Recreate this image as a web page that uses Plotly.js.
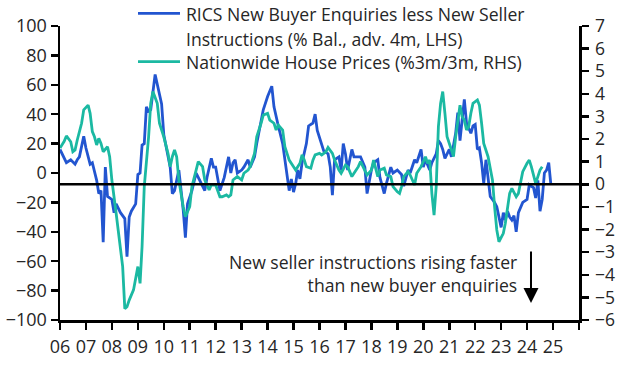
<!DOCTYPE html>
<html><head><meta charset="utf-8">
<script src="https://cdn.plot.ly/plotly-3.0.1.min.js"></script>
<style>html,body{margin:0;padding:0;background:#fff;}#chart{width:618px;height:366px;}</style>
</head><body><div id="chart"></div>
<script>
const ricsDates = ["2006-01","2006-02","2006-04","2006-06","2006-08","2006-09","2006-10","2006-12","2007-01","2007-03","2007-04","2007-06","2007-07","2007-08","2007-09","2007-10","2007-11","2008-01","2008-02","2008-03","2008-05","2008-07","2008-08","2008-09","2008-10","2008-12","2009-01","2009-02","2009-03","2009-04","2009-05","2009-06","2009-07","2009-09","2009-10","2009-12","2010-01","2010-03","2010-04","2010-05","2010-06","2010-08","2010-10","2010-11","2010-12","2011-02","2011-04","2011-05","2011-08","2011-09","2011-11","2011-12","2012-01","2012-03","2012-05","2012-07","2012-08","2012-09","2012-10","2012-11","2013-01","2013-02","2013-04","2013-05","2013-07","2013-08","2013-10","2013-11","2014-01","2014-03","2014-04","2014-05","2014-06","2014-08","2014-09","2014-11","2014-12","2015-01","2015-02","2015-03","2015-04","2015-05","2015-07","2015-08","2015-10","2015-11","2015-12","2016-02","2016-03","2016-05","2016-06","2016-07","2016-08","2016-10","2016-11","2016-12","2017-01","2017-02","2017-04","2017-05","2017-07","2017-08","2017-10","2017-11","2018-01","2018-02","2018-04","2018-05","2018-07","2018-08","2018-10","2018-11","2019-01","2019-03","2019-04","2019-06","2019-07","2019-09","2019-10","2019-12","2020-01","2020-02","2020-04","2020-05","2020-07","2020-08","2020-09","2020-10","2020-11","2021-01","2021-02","2021-04","2021-05","2021-06","2021-07","2021-08","2021-09","2021-11","2021-12","2022-01","2022-02","2022-03","2022-04","2022-05","2022-06","2022-07","2022-08","2022-10","2022-11","2023-01","2023-02","2023-03","2023-04","2023-05","2023-06","2023-07","2023-08","2023-09","2023-11","2024-01","2024-02","2024-03","2024-04","2024-05","2024-06","2024-07","2024-08","2024-09","2024-10","2024-11","2024-12"];
const ricsValues = [16,13,7,9,6,9,11,25,17,6,7,-5,-14,-12,-47,4,-16,-18,-27,-21,-27,-31,-57,-30,-26,-21,-1,0,19,20,45,42,43,67,61,47,26,11,4,-14,-12,2,-25,-44,-21,-12,0,-3,-12,-3,10,4,4,-12,-3,11,0,7,9,0,2,4,9,4,11,20,34,43,52,59,45,38,32,20,9,-12,-4,-13,-7,2,-4,7,20,32,34,40,29,20,15,13,4,-15,9,11,2,20,13,2,16,11,11,11,4,-14,2,7,9,-3,-14,-7,4,0,2,-1,-9,2,0,9,7,16,4,9,2,7,13,22,20,16,10,16,11,27,41,22,36,50,34,27,32,33,16,17,7,-7,9,-5,-16,-20,-23,-37,-27,-32,-26,-30,-32,-29,-40,-27,-20,-18,-8,-9,-10,-17,-5,-26,-18,0,2,7,-8];

const nwDates = ["2006-01","2006-03","2006-04","2006-06","2006-07","2006-08","2006-09","2006-11","2006-12","2007-02","2007-03","2007-04","2007-05","2007-06","2007-07","2007-08","2007-09","2007-11","2007-12","2008-01","2008-03","2008-04","2008-06","2008-07","2008-08","2008-09","2008-11","2009-01","2009-02","2009-03","2009-04","2009-06","2009-07","2009-08","2009-10","2009-11","2010-01","2010-03","2010-04","2010-05","2010-06","2010-07","2010-08","2010-10","2010-11","2011-01","2011-02","2011-04","2011-05","2011-07","2011-08","2011-10","2011-11","2012-01","2012-03","2012-04","2012-06","2012-07","2012-08","2012-09","2012-11","2013-01","2013-02","2013-04","2013-05","2013-07","2013-08","2013-10","2013-11","2014-01","2014-02","2014-04","2014-05","2014-06","2014-08","2014-09","2014-11","2015-01","2015-02","2015-04","2015-05","2015-06","2015-07","2015-09","2015-10","2015-11","2016-01","2016-02","2016-04","2016-05","2016-07","2016-08","2016-10","2016-11","2017-01","2017-02","2017-04","2017-05","2017-07","2017-08","2017-10","2017-11","2018-01","2018-02","2018-04","2018-05","2018-07","2018-08","2018-10","2018-11","2019-01","2019-02","2019-03","2019-04","2019-06","2019-07","2019-09","2019-10","2019-12","2020-02","2020-03","2020-04","2020-05","2020-06","2020-07","2020-08","2020-09","2020-10","2020-11","2020-12","2021-02","2021-03","2021-04","2021-05","2021-06","2021-07","2021-08","2021-09","2021-10","2021-11","2021-12","2022-02","2022-03","2022-04","2022-05","2022-07","2022-08","2022-09","2022-10","2022-11","2022-12","2023-02","2023-03","2023-04","2023-05","2023-06","2023-08","2023-09","2023-10","2023-11","2024-01","2024-02","2024-03","2024-04","2024-05","2024-06","2024-07","2024-08"];
const nwValues = [1.6,1.9,2.14,1.88,1.44,1.52,1.96,2.7,3.29,3.5,3.14,2.33,2.1,1.74,2.03,1.81,1.44,1.66,1.22,0.19,-1.28,-2.17,-3.64,-5.5,-5.41,-5.12,-4.67,-3.64,-4.38,-2.76,-0.1,2.1,3.58,4.1,3.58,2.7,2.1,1.37,0.78,1.22,1.52,1.22,0.19,-0.99,-1.43,-0.99,-0.1,0.63,1.0,0.78,0.19,-0.25,-0.03,-0.03,-0.55,-0.55,-0.47,-0.55,-0.47,0.19,0.34,0.19,0.49,0.63,0.78,1.37,2.1,2.7,3.06,3.14,2.84,2.7,2.4,2.62,2.4,1.66,1.07,0.78,0.63,0.93,1.3,1.07,0.78,0.71,1.07,1.3,1.37,1.3,1.44,1.63,1.37,1.07,0.63,0.49,0.85,0.78,0.34,0.49,0.78,1.0,0.63,0.41,0.63,1.07,0.34,0.63,0.71,0.41,0.34,-0.1,-0.33,-0.4,-0.1,0.34,0.56,0.41,-0.03,0.49,0.78,1.22,0.93,1.07,-0.4,-1.36,-0.1,2.55,3.58,4.1,3.14,2.1,1.52,1.22,2.1,2.84,3.5,2.99,2.84,2.4,2.55,3.14,3.58,3.73,3.5,2.7,1.81,1.22,0.78,0.19,-0.99,-2.02,-2.54,-2.17,-1.72,-0.99,-0.4,-0.18,-0.55,-0.4,0.04,0.56,0.93,1.07,0.78,0.41,0.04,0.34,0.63,0.78];

const yearTicks = ["2006","2007","2008","2009","2010","2011","2012","2013","2014","2015","2016","2017","2018","2019","2020","2021","2022","2023","2024","2025","2026"];
const yearLabels = ["06","07","08","09","10","11","12","13","14","15","16","17","18","19","20","21","22","23","24","25",""];

const seriesNames = ["RICS New Buyer Enquiries less New Seller", "Instructions (% Bal., adv. 4m, LHS)", "Nationwide House Prices (%3m/3m, RHS)"];
const noteLines = ["New seller instructions rising faster", "than new buyer enquiries"];

const BLUE = "#2255D0", TEAL = "#1BB9A2", TXT = "#262626";
const FONT = "Open Sans";

const traces = [
  {x: ricsDates.map(d => d + "-01"), y: ricsValues, type: "scatter", mode: "lines", yaxis: "y",
   line: {color: BLUE, width: 2.8}, showlegend: false, hoverinfo: "skip"},
  {x: nwDates.map(d => d + "-01"), y: nwValues, type: "scatter", mode: "lines", yaxis: "y2",
   line: {color: TEAL, width: 2.8}, showlegend: false, hoverinfo: "skip"}
];

const axisCommon = {showgrid: false, zeroline: false, showline: true, linecolor: "#000", linewidth: 2.5,
  ticks: "outside", ticklen: 7, tickwidth: 2.5, tickcolor: "#000", tickfont: {family: FONT, size: 18, color: TXT}};

const layout = {
  width: 618, height: 366,
  margin: {l: 60, r: 39, t: 26, b: 46},
  paper_bgcolor: "#fff", plot_bgcolor: "#fff",
  xaxis: Object.assign({}, axisCommon, {type: "date", range: ["2006-01-01", "2026-01-01"],
    tickvals: yearTicks.map(y => y + "-01-01"), ticktext: yearLabels, ticklabelstandoff: 2}),
  yaxis: Object.assign({}, axisCommon, {range: [-100, 100], tickvals: [-100,-80,-60,-40,-20,0,20,40,60,80,100]}),
  yaxis2: Object.assign({}, axisCommon, {range: [-6, 7], overlaying: "y", side: "right", ticklabelstandoff: 3,
    tickfont: {family: FONT, size: 17.5, color: TXT},
    tickvals: [-6,-5,-4,-3,-2,-1,0,1,2,3,4,5,6,7]}),
  shapes: [
    {type: "line", xref: "paper", x0: 0, x1: 1, yref: "y2", y0: 0, y1: 0, line: {color: "#000", width: 2.5}},
    {type: "line", xref: "paper", x0: 0.1503, x1: 0.2312, yref: "paper", y0: 1.0432, y1: 1.0432, line: {color: BLUE, width: 2.8}},
    {type: "line", xref: "paper", x0: 0.1503, x1: 0.2312, yref: "paper", y0: 0.8786, y1: 0.8786, line: {color: TEAL, width: 2.8}}
  ],
  annotations: [
    {xref: "paper", yref: "paper", x: 0.2389, y: 1.0408, xanchor: "left", yanchor: "middle", showarrow: false,
     text: seriesNames[0], font: {family: FONT, size: 17.6, color: TXT}},
    {xref: "paper", yref: "paper", x: 0.2389, y: 0.956, xanchor: "left", yanchor: "middle", showarrow: false,
     text: seriesNames[1], font: {family: FONT, size: 17.6, color: TXT}},
    {xref: "paper", yref: "paper", x: 0.2389, y: 0.878, xanchor: "left", yanchor: "middle", showarrow: false,
     text: seriesNames[2], font: {family: FONT, size: 17.6, color: TXT}},
    {xref: "paper", yref: "paper", x: 0.8845, y: 0.157, xanchor: "right", yanchor: "middle", showarrow: false, align: "right",
     text: noteLines.join("<br>"), font: {family: FONT, size: 17.6, color: TXT}},
    {xref: "paper", yref: "paper", x: 0.9075, y: 0.058, ax: 0, ay: -53, axref: "pixel", ayref: "pixel",
     showarrow: true, text: "", arrowhead: 2, arrowsize: 1.5, arrowwidth: 2, arrowcolor: "#000"}
  ]
};

Plotly.newPlot("chart", traces, layout, {staticPlot: true, displayModeBar: false});
</script>
</body></html>
